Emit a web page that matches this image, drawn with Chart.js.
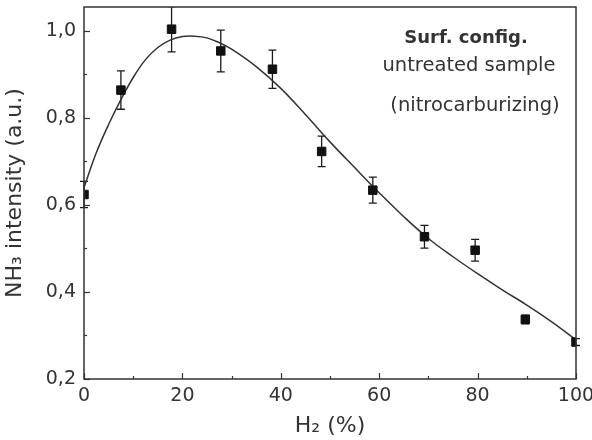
<!DOCTYPE html>
<html>
<head>
<meta charset="utf-8">
<script src="https://cdn.jsdelivr.net/npm/chart.js@4/dist/chart.umd.min.js"></script>
<style>
    html, body {margin: 0; padding: 0; background: #fff;}
    canvas {display: block;}
</style>
</head>
<body>
<canvas id="nh3Chart" width="592" height="440"></canvas>
<script>
const hydrogenPct = [0, 7.5, 17.8, 27.8, 38.3, 48.3, 58.7, 69.2, 79.5, 89.7, 100]
const nh3Intensity = [0.624, 0.864, 1.004, 0.954, 0.912, 0.723, 0.634, 0.527, 0.496, 0.337, 0.285]
const nh3Error = [0.03, 0.044, 0.052, 0.048, 0.044, 0.035, 0.03, 0.026, 0.025, 0.01, 0.008]

const fitX = [0, 2.5, 5, 7.5, 10, 12.5, 15, 17.5, 20, 22.5, 25, 27.5, 30, 35, 40, 45, 50, 55, 60, 65, 70, 75, 80, 85, 90, 95, 100]
const fitY = [0.64, 0.72, 0.785, 0.842, 0.893, 0.934, 0.962, 0.979, 0.987, 0.988, 0.984, 0.973, 0.958, 0.918, 0.868, 0.808, 0.745, 0.686, 0.628, 0.573, 0.523, 0.481, 0.442, 0.405, 0.37, 0.332, 0.29]

const xTicks = [0, 20, 40, 60, 80, 100]
const xMinorTicks = [10, 30, 50, 70, 90]
const yTicks = [0.2, 0.4, 0.6, 0.8, 1.0]
const yMinorTicks = [0.3, 0.5, 0.7, 0.9]

const axisColor = '#333'
const textColor = '#333'

Chart.defaults.font.family = "'DejaVu Sans', sans-serif"

// let tick labels overflow the chart edges like the original instead of shrinking the plot
function fixScaleBox(scale, size) {
    if (scale.isHorizontal()) scale.height = size
    else scale.width = size
    scale.paddingLeft = 0
    scale.paddingRight = 0
    scale.paddingTop = 0
    scale.paddingBottom = 0
}

const frameAndTicks = {
    id: 'frameAndTicks',
    beforeDatasetsDraw(chart) {
        const {ctx, chartArea, scales} = chart
        ctx.save()
        ctx.beginPath()
        ctx.rect(chartArea.left - 10, chartArea.top, chartArea.right - chartArea.left + 20, chartArea.bottom - chartArea.top)
        ctx.clip()
        ctx.strokeStyle = '#1a1a1a'
        ctx.lineWidth = 1.3
        hydrogenPct.forEach((x, i) => {
            const px = scales.x.getPixelForValue(x)
            const top = scales.y.getPixelForValue(nh3Intensity[i] + nh3Error[i])
            const bottom = scales.y.getPixelForValue(nh3Intensity[i] - nh3Error[i])
            ctx.beginPath()
            ctx.moveTo(px, top)
            ctx.lineTo(px, bottom)
            ctx.moveTo(px - 4, top)
            ctx.lineTo(px + 4, top)
            ctx.moveTo(px - 4, bottom)
            ctx.lineTo(px + 4, bottom)
            ctx.stroke()
        })
        ctx.restore()
    },
    afterDraw(chart) {
        const {ctx, chartArea, scales} = chart
        ctx.save()
        ctx.strokeStyle = axisColor
        ctx.lineWidth = 1.5
        ctx.strokeRect(chartArea.left, chartArea.top, chartArea.right - chartArea.left, chartArea.bottom - chartArea.top)

        ctx.lineWidth = 1.2
        const xTick = (v, len) => {
            const px = Math.round(scales.x.getPixelForValue(v)) + 0.5
            ctx.beginPath()
            ctx.moveTo(px, chartArea.bottom)
            ctx.lineTo(px, chartArea.bottom - len)
            ctx.stroke()
        }
        const yTick = (v, len) => {
            const py = Math.round(scales.y.getPixelForValue(v)) + 0.5
            ctx.beginPath()
            ctx.moveTo(chartArea.left, py)
            ctx.lineTo(chartArea.left + len, py)
            ctx.stroke()
        }
        xTicks.forEach(v => xTick(v, 6))
        xMinorTicks.forEach(v => xTick(v, 3))
        yTicks.forEach(v => yTick(v, 6))
        yMinorTicks.forEach(v => yTick(v, 3))

        // annotation text, upper right
        ctx.fillStyle = textColor
        ctx.textAlign = 'center'
        ctx.textBaseline = 'alphabetic'
        ctx.font = "bold 18px 'DejaVu Sans'"
        ctx.fillText('Surf. config.', 466, 43)
        ctx.font = "19.5px 'DejaVu Sans'"
        ctx.fillText('untreated sample', 469, 71)
        ctx.fillText('(nitrocarburizing)', 475, 111)
        ctx.restore()
    },
}

new Chart(document.getElementById('nh3Chart'), {
    type: 'scatter',
    plugins: [frameAndTicks],
    data: {
        datasets: [
            {
                label: 'NH3 intensity',
                data: hydrogenPct.map((x, i) => ({x, y: nh3Intensity[i]})),
                pointStyle: 'rect',
                pointRadius: 6,
                backgroundColor: '#111',
                borderColor: '#111',
                borderWidth: 1,
            },
            {
                label: 'fit',
                data: fitX.map((x, i) => ({x, y: fitY[i]})),
                showLine: true,
                tension: 0.4,
                borderColor: '#333',
                borderWidth: 1.5,
                pointRadius: 0,
            },
        ],
    },
    options: {
        responsive: false,
        animation: false,
        layout: {padding: {top: 5, right: 16, left: 0, bottom: 0}},
        plugins: {
            legend: {display: false},
            tooltip: {enabled: false},
        },
        scales: {
            x: {
                type: 'linear',
                min: 0,
                max: 100,
                afterFit: scale => fixScaleBox(scale, 61),
                afterBuildTicks: scale => { scale.ticks = xTicks.map(value => ({value})) },
                grid: {display: false, drawTicks: false},
                border: {display: false},
                ticks: {color: textColor, font: {size: 19}, padding: 6, maxRotation: 0},
                title: {display: true, text: 'H₂ (%)', color: textColor, font: {size: 22}, padding: {top: 0, bottom: 1}},
            },
            y: {
                min: 0.2,
                max: 1.055,
                afterFit: scale => fixScaleBox(scale, 84),
                afterBuildTicks: scale => { scale.ticks = yTicks.map(value => ({value})) },
                grid: {display: false, drawTicks: false},
                border: {display: false},
                ticks: {
                    color: textColor,
                    font: {size: 19},
                    padding: 8,
                    callback: value => value.toFixed(1).replace('.', ','),
                },
                title: {display: true, text: 'NH₃ intensity (a.u.)', color: textColor, font: {size: 22}, padding: {top: 2, bottom: 0}},
            },
        },
    },
})
</script>
</body>
</html>
